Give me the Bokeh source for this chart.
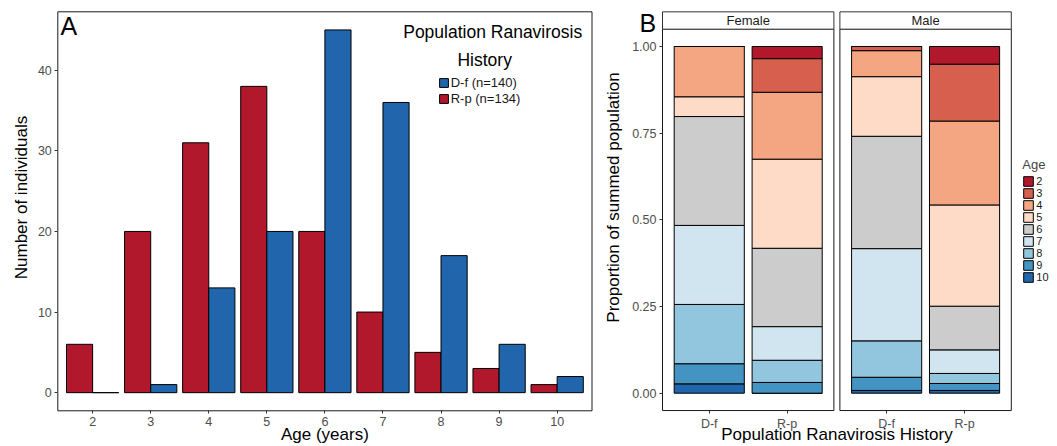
import math
from bokeh.plotting import figure
from bokeh.models import (ColumnDataSource, Legend, LegendItem, Label, FixedTicker,
                          NumeralTickFormatter, Range1d)
from bokeh.layouts import row
from bokeh.transform import dodge
from bokeh.core.properties import value
from bokeh.embed import file_html
from bokeh.resources import INLINE

FONT = "Liberation Sans"

# ---------------- data ----------------
ages = ["2", "3", "4", "5", "6", "7", "8", "9", "10"]
count_rp = [6, 20, 31, 38, 20, 10, 5, 3, 1]      # R-p (n=134)
count_df = [0, 1, 13, 20, 45, 36, 17, 6, 2]      # D-f (n=140)
label_df = "D-f (n=140)"
label_rp = "R-p (n=134)"
color_df = "#2166AC"
color_rp = "#B2182B"

sexes = ["Female", "Male"]
histories = ["D-f", "R-p"]
# proportion of summed population per age (2..10)
prop_female_df = [0.0, 0.0, 0.145, 0.057, 0.314, 0.228, 0.171, 0.058, 0.027]
prop_female_rp = [0.035, 0.097, 0.193, 0.257, 0.226, 0.097, 0.064, 0.031, 0.0]
prop_male_df = [0.0, 0.012, 0.075, 0.172, 0.324, 0.266, 0.105, 0.038, 0.008]
prop_male_rp = [0.051, 0.164, 0.242, 0.292, 0.126, 0.068, 0.029, 0.020, 0.008]
age_colors = ["#B2182B", "#D6604D", "#F4A582", "#FDDBC7", "#CCCCCC",
              "#D1E5F0", "#92C5DE", "#4393C3", "#2166AC"]

TICK_COLOR = "#333333"
LABEL_COLOR = "#4D4D4D"
H = 446


def x_range_for(px_lo, px_hi, v_lo, v_hi, width):
    s = (px_hi - px_lo) / (v_hi - v_lo)
    return Range1d(v_lo - px_lo / s, v_hi + (width - px_hi) / s)


def y_range_for(px_top, px_bottom, v_top, v_bottom, height):
    s = (px_bottom - px_top) / (v_top - v_bottom)
    return Range1d(v_bottom - (height - px_bottom) / s, v_top + px_top / s)


def style_axis(ax):
    ax.major_tick_in = 0
    ax.major_tick_out = 3
    ax.minor_tick_in = 0
    ax.minor_tick_out = 0
    ax.major_tick_line_color = TICK_COLOR
    ax.major_label_text_font = FONT
    ax.major_label_text_font_size = "12.5px"
    ax.major_label_text_color = LABEL_COLOR
    ax.major_label_standoff = 3
    ax.axis_line_color = None


def text_label(p, x, y, text, size, align="left", angle=0.0):
    p.add_layout(Label(x=x, y=y, x_units="screen", y_units="screen", text=text,
                       text_font=FONT, text_font_size=size, text_color="black",
                       text_align=align, text_baseline="alphabetic", angle=angle))


def base_figure(width, xr, yr):
    p = figure(width=width, height=H, x_range=xr, y_range=yr, title=None,
               output_backend="svg", toolbar_location=None, min_border=0)
    p.xgrid.visible = False
    p.ygrid.visible = False
    p.outline_line_color = None
    p.background_fill_color = "white"
    p.border_fill_color = "white"
    return p


# ---------------- panel A ----------------
pos = list(range(1, len(ages) + 1))
srcA = ColumnDataSource(dict(pos=pos, age=ages, rp=count_rp, df=count_df))
xa_lo, xa_hi = 0.4, len(ages) + 0.6
ya_lo, ya_hi = -2.25, 47.25

pA = base_figure(600, x_range_for(57.3, 591.5, xa_lo, xa_hi, 600),
                 y_range_for(11.3, 410.3, ya_hi, ya_lo, H))

pA.quad(left=[xa_lo], right=[xa_hi], bottom=[ya_lo], top=[ya_hi],
        fill_color=None, line_color="#1A1A1A", line_width=1)

r_rp = pA.vbar(x=dodge("pos", -0.225), top="rp", width=0.45, source=srcA,
               fill_color=color_rp, line_color="black", line_width=1)
r_df = pA.vbar(x=dodge("pos", 0.225), top="df", width=0.45, source=srcA,
               fill_color=color_df, line_color="black", line_width=1)

pA.xaxis.ticker = FixedTicker(ticks=pos)
pA.xaxis.major_label_overrides = {p_: a for p_, a in zip(pos, ages)}
pA.xaxis.fixed_location = ya_lo
pA.yaxis.ticker = FixedTicker(ticks=[0, 10, 20, 30, 40])
pA.yaxis.fixed_location = xa_lo
style_axis(pA.xaxis[0])
style_axis(pA.yaxis[0])

legA = Legend(items=[LegendItem(label=label_df, renderers=[r_df]),
                     LegendItem(label=label_rp, renderers=[r_rp])],
              location=(437.7, 340.5), padding=0, margin=0, spacing=1,
              glyph_width=11, glyph_height=11, label_height=11, label_standoff=2,
              label_text_font=FONT, label_text_font_size="13px", label_text_color="#1A1A1A",
              border_line_color=None, background_fill_alpha=0)
pA.add_layout(legA)

text_label(pA, 60, H - 25, "A", "25px")
text_label(pA, 492.2, H - 31.6, "Population Ranavirosis", "17.5px", "center")
text_label(pA, 484.2, H - 59.5, "History", "17.5px", "center")
text_label(pA, 324.4, H - 434, "Age (years)", "17px", "center")
text_label(pA, 21.1, H - 197, "Number of individuals", "17px", "center", math.pi / 2)

# ---------------- panel B ----------------
off = 2.2 + 0.077            # facet offset (panel width + gap)
strip_top = 1.10
bar_x = [1, 2, 1 + off, 2 + off]
dataB = {"x": bar_x}
for i, a in enumerate(ages):
    dataB["a" + a] = [prop_female_df[i], prop_female_rp[i], prop_male_df[i], prop_male_rp[i]]
srcB = ColumnDataSource(dataB)

WB = 457
pB = base_figure(WB, x_range_for(62, 410.8, 0.4, 2.6 + off, WB),
                 y_range_for(46, 392.7, 1.0, 0.0, H))

stackers = ["a" + a for a in reversed(ages)]
rends = pB.vbar_stack(stackers, x="x", width=0.9, source=srcB,
                      fill_color=list(reversed(age_colors)), line_color="black", line_width=1)
rend_by_age = dict(zip(reversed(ages), rends))

# facet panels and strips
pB.quad(left=[0.4, 0.4 + off], right=[2.6, 2.6 + off], bottom=-0.05, top=1.05,
        fill_color=None, line_color="#1A1A1A", line_width=1)
pB.quad(left=[0.4, 0.4 + off], right=[2.6, 2.6 + off], bottom=1.05, top=strip_top,
        fill_color="white", line_color="#333333", line_width=1)
pB.text(x=[1.5, 1.5 + off], y=[(1.05 + strip_top) / 2] * 2, text=sexes,
        text_align="center", text_baseline="middle", text_font=value(FONT),
        text_font_size="13px", text_color="#1A1A1A")

pB.xaxis.ticker = FixedTicker(ticks=bar_x)
pB.xaxis.major_label_overrides = {bx: histories[i % 2] for i, bx in enumerate(bar_x)}
pB.xaxis.fixed_location = -0.05
pB.yaxis.ticker = FixedTicker(ticks=[0, 0.25, 0.5, 0.75, 1.0])
pB.yaxis.formatter = NumeralTickFormatter(format="0.00")
pB.yaxis.fixed_location = 0.4
style_axis(pB.xaxis[0])
style_axis(pB.yaxis[0])

legB = Legend(items=[LegendItem(label=a, renderers=[rend_by_age[a]]) for a in ages],
              title="Age", location=(422.3, 162.7), padding=0, margin=0, spacing=0,
              glyph_width=12, glyph_height=12, label_height=12, label_standoff=2,
              label_text_font=FONT, label_text_font_size="11px", label_text_color="#1A1A1A",
              title_text_font=FONT, title_text_font_size="13px", title_text_font_style="normal",
              title_standoff=3, border_line_color=None, background_fill_alpha=0)
pB.add_layout(legB)

text_label(pB, 39, H - 22.7, "B", "25px")
text_label(pB, 236.4, H - 434, "Population Ranavirosis History", "17px", "center")
text_label(pB, 13.4, H - 197, "Proportion of summed population", "17px", "center", math.pi / 2)

layout = row(pA, pB)
open("out.html", "w").write(file_html(layout, INLINE))
